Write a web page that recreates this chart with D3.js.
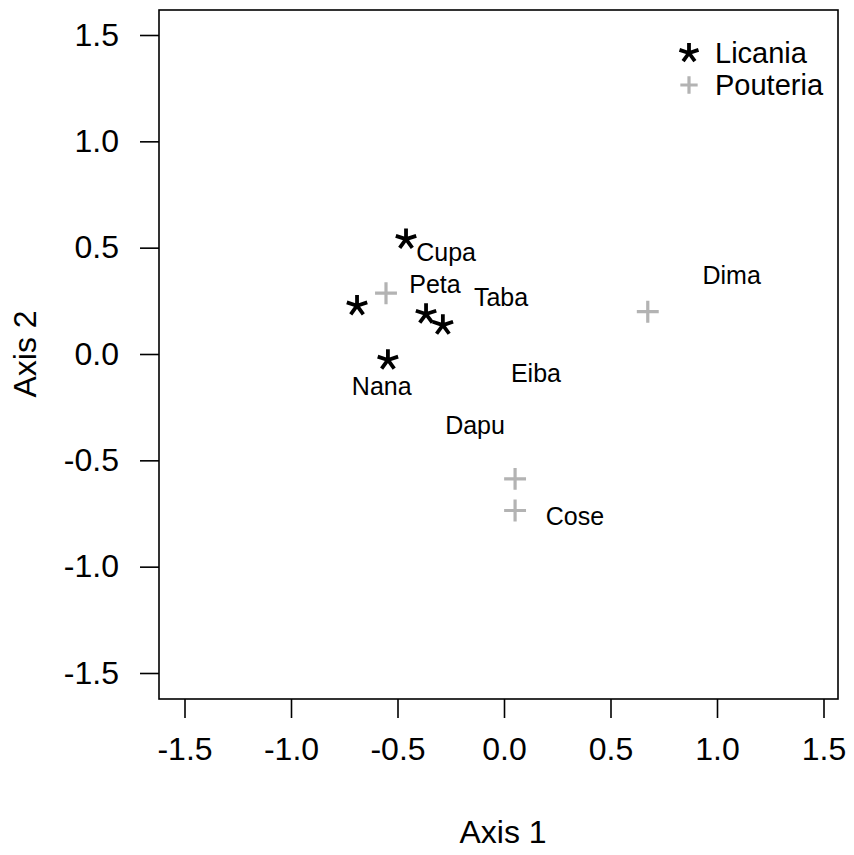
<!DOCTYPE html>
<html>
<head>
<meta charset="utf-8">
<script src="https://cdn.jsdelivr.net/npm/d3@7.9.0/dist/d3.min.js"></script>
<style>
  body { margin: 0; background: #fff; }
  text { font-family: "Liberation Sans", Arial, Helvetica, sans-serif; fill: #000; }
</style>
</head>
<body>
<svg id="plot" width="854" height="855"></svg>
<script>
// site scores on the two ordination axes
const genus = ['Licania', 'Licania', 'Licania', 'Licania', 'Licania',
               'Pouteria', 'Pouteria', 'Pouteria', 'Pouteria'];
const axis1 = [-0.46, -0.69, -0.366, -0.287, -0.545, -0.554, 0.675, 0.052, 0.052];
const axis2 = [0.54, 0.227, 0.188, 0.136, -0.028, 0.286, 0.199, -0.587, -0.736];

// site name labels (placed on their own scores)
const siteNames = ['Cupa', 'Peta', 'Taba', 'Dima', 'Nana', 'Eiba', 'Dapu', 'Cose'];
const siteX = [-0.272, -0.324, -0.014, 1.069, -0.574, 0.150, -0.136, 0.333];
const siteY = [0.48, 0.329, 0.268, 0.371, -0.153, -0.089, -0.333, -0.764];

const ticks = [-1.5, -1.0, -0.5, 0.0, 0.5, 1.0, 1.5];
const genera = ['Licania', 'Pouteria'];

const svg = d3.select('#plot');
const box = { left: 159, right: 838, top: 10, bottom: 699 };

const x = d3.scaleLinear().domain([-1.5, 1.5]).range([184.5, 823.5]);
const y = d3.scaleLinear().domain([-1.5, 1.5]).range([673, 35]);

// 5-armed asterisk, like the glyph used in the original
const asterisk = {
  draw(ctx, size) {
    const r = Math.sqrt(size) / 2;
    for (let i = 0; i < 5; i++) {
      const a = -Math.PI / 2 + i * 2 * Math.PI / 5;
      ctx.moveTo(0, 0);
      ctx.lineTo(r * Math.cos(a), r * Math.sin(a));
    }
  }
};
const plus = {
  draw(ctx, size) {
    const r = Math.sqrt(size) / 2;
    ctx.moveTo(-r, 0); ctx.lineTo(r, 0);
    ctx.moveTo(0, -r); ctx.lineTo(0, r);
  }
};
const shape = d3.scaleOrdinal().domain(genera).range([asterisk, plus]);
const color = d3.scaleOrdinal().domain(genera).range(['#000000', '#b3b3b3']);
const sizeOf = g => g === 'Licania' ? 460 : 480;
const widthOf = g => g === 'Licania' ? 3.8 : 3.2;

// frame
svg.append('rect')
  .attr('x', box.left).attr('y', box.top)
  .attr('width', box.right - box.left).attr('height', box.bottom - box.top)
  .attr('fill', 'none').attr('stroke', '#000').attr('stroke-width', 1.6);

// axes
const xAxis = svg.append('g')
  .attr('transform', `translate(0,${box.bottom})`)
  .call(d3.axisBottom(x).tickValues(ticks).tickFormat(d3.format('.1f'))
    .tickSize(19).tickPadding(19));
const yAxis = svg.append('g')
  .attr('transform', `translate(${box.left},0)`)
  .call(d3.axisLeft(y).tickValues(ticks).tickFormat(d3.format('.1f'))
    .tickSize(19).tickPadding(21));
[xAxis, yAxis].forEach(ax => {
  ax.select('.domain').remove();
  ax.selectAll('line').attr('stroke', '#000').attr('stroke-width', 1.6);
  ax.selectAll('text').attr('font-size', 32)
    .style('font-family', '"Liberation Sans", Arial, sans-serif')
    .text(d => d3.format('.1f')(d).replace('−', '-'));
});
xAxis.selectAll('text').attr('dy', '0.71em');

// axis titles
svg.append('text').attr('x', 503).attr('y', 843)
  .attr('text-anchor', 'middle').attr('font-size', 32).text('Axis 1');
svg.append('text').attr('transform', 'translate(36,354) rotate(-90)')
  .attr('text-anchor', 'middle').attr('font-size', 32).text('Axis 2');

// points
const pts = genus.map((g, i) => ({ g, a1: axis1[i], a2: axis2[i] }));
svg.append('g').selectAll('path')
  .data(pts)
  .join('path')
  .attr('transform', d => `translate(${x(d.a1)},${y(d.a2)})`)
  .attr('d', d => d3.symbol(shape(d.g), sizeOf(d.g))())
  .attr('fill', 'none')
  .attr('stroke', d => color(d.g))
  .attr('stroke-width', d => widthOf(d.g));

// site labels
svg.append('g').selectAll('text')
  .data(siteNames)
  .join('text')
  .attr('x', (d, i) => x(siteX[i]))
  .attr('y', (d, i) => y(siteY[i]))
  .attr('dy', '0.35em')
  .attr('text-anchor', 'middle')
  .attr('font-size', 25)
  .text(d => d);

// legend
const legend = svg.append('g').attr('transform', 'translate(689,53)');
genera.forEach((g, i) => {
  const row = legend.append('g').attr('transform', `translate(0,${i * 32})`);
  row.append('path')
    .attr('d', d3.symbol(shape(g), g === 'Licania' ? 400 : 300)())
    .attr('fill', 'none').attr('stroke', color(g))
    .attr('stroke-width', widthOf(g));
  row.append('text').attr('x', 26).attr('dy', '0.35em')
    .attr('font-size', 29).text(g);
});
</script>
</body>
</html>
